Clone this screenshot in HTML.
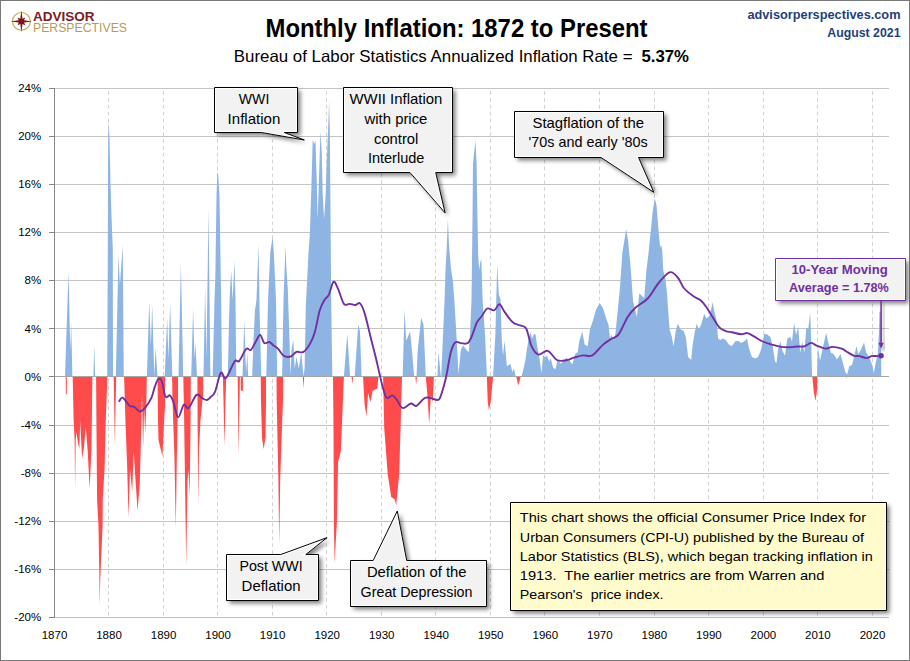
<!DOCTYPE html>
<html><head><meta charset="utf-8"><style>html,body{margin:0;padding:0;background:#fff;width:910px;height:661px;overflow:hidden}svg{display:block}text{white-space:pre}</style></head>
<body>
<svg width="910" height="661" viewBox="0 0 910 661" font-family="Liberation Sans">
<defs><filter id="sh" x="-10%" y="-10%" width="130%" height="130%"><feGaussianBlur in="SourceAlpha" stdDeviation="2"/><feOffset dx="2.5" dy="3"/><feComponentTransfer><feFuncA type="linear" slope="0.5"/></feComponentTransfer><feMerge><feMergeNode/><feMergeNode in="SourceGraphic"/></feMerge></filter></defs>
<rect x="0.5" y="0.5" width="909" height="660" fill="#fff" stroke="#7a7a7a" stroke-width="1"/>
<line x1="49" y1="88.5" x2="889" y2="88.5" stroke="#c4c4c4" stroke-width="1"/>
<line x1="49" y1="136.5" x2="889" y2="136.5" stroke="#c4c4c4" stroke-width="1"/>
<line x1="49" y1="184.5" x2="889" y2="184.5" stroke="#c4c4c4" stroke-width="1"/>
<line x1="49" y1="232.5" x2="889" y2="232.5" stroke="#c4c4c4" stroke-width="1"/>
<line x1="49" y1="280.5" x2="889" y2="280.5" stroke="#c4c4c4" stroke-width="1"/>
<line x1="49" y1="328.5" x2="889" y2="328.5" stroke="#c4c4c4" stroke-width="1"/>
<line x1="49" y1="376.5" x2="889" y2="376.5" stroke="#c4c4c4" stroke-width="1"/>
<line x1="49" y1="425.5" x2="889" y2="425.5" stroke="#c4c4c4" stroke-width="1"/>
<line x1="49" y1="473.5" x2="889" y2="473.5" stroke="#c4c4c4" stroke-width="1"/>
<line x1="49" y1="521.5" x2="889" y2="521.5" stroke="#c4c4c4" stroke-width="1"/>
<line x1="49" y1="569.5" x2="889" y2="569.5" stroke="#c4c4c4" stroke-width="1"/>
<line x1="108.5" y1="88.5" x2="108.5" y2="617" stroke="#d2d2d2" stroke-width="1" stroke-dasharray="3.8,3.05" stroke-dashoffset="-2.7"/>
<line x1="163.5" y1="88.5" x2="163.5" y2="617" stroke="#d2d2d2" stroke-width="1" stroke-dasharray="3.8,3.05" stroke-dashoffset="-2.7"/>
<line x1="217.5" y1="88.5" x2="217.5" y2="617" stroke="#d2d2d2" stroke-width="1" stroke-dasharray="3.8,3.05" stroke-dashoffset="-2.7"/>
<line x1="272.5" y1="88.5" x2="272.5" y2="617" stroke="#d2d2d2" stroke-width="1" stroke-dasharray="3.8,3.05" stroke-dashoffset="-2.7"/>
<line x1="326.5" y1="88.5" x2="326.5" y2="617" stroke="#d2d2d2" stroke-width="1" stroke-dasharray="3.8,3.05" stroke-dashoffset="-2.7"/>
<line x1="381.5" y1="88.5" x2="381.5" y2="617" stroke="#d2d2d2" stroke-width="1" stroke-dasharray="3.8,3.05" stroke-dashoffset="-2.7"/>
<line x1="435.5" y1="88.5" x2="435.5" y2="617" stroke="#d2d2d2" stroke-width="1" stroke-dasharray="3.8,3.05" stroke-dashoffset="-2.7"/>
<line x1="490.5" y1="88.5" x2="490.5" y2="617" stroke="#d2d2d2" stroke-width="1" stroke-dasharray="3.8,3.05" stroke-dashoffset="-2.7"/>
<line x1="544.5" y1="88.5" x2="544.5" y2="617" stroke="#d2d2d2" stroke-width="1" stroke-dasharray="3.8,3.05" stroke-dashoffset="-2.7"/>
<line x1="599.5" y1="88.5" x2="599.5" y2="617" stroke="#d2d2d2" stroke-width="1" stroke-dasharray="3.8,3.05" stroke-dashoffset="-2.7"/>
<line x1="654.5" y1="88.5" x2="654.5" y2="617" stroke="#d2d2d2" stroke-width="1" stroke-dasharray="3.8,3.05" stroke-dashoffset="-2.7"/>
<line x1="708.5" y1="88.5" x2="708.5" y2="617" stroke="#d2d2d2" stroke-width="1" stroke-dasharray="3.8,3.05" stroke-dashoffset="-2.7"/>
<line x1="763.5" y1="88.5" x2="763.5" y2="617" stroke="#d2d2d2" stroke-width="1" stroke-dasharray="3.8,3.05" stroke-dashoffset="-2.7"/>
<line x1="817.5" y1="88.5" x2="817.5" y2="617" stroke="#d2d2d2" stroke-width="1" stroke-dasharray="3.8,3.05" stroke-dashoffset="-2.7"/>
<line x1="872.5" y1="88.5" x2="872.5" y2="617" stroke="#d2d2d2" stroke-width="1" stroke-dasharray="3.8,3.05" stroke-dashoffset="-2.7"/>
<polygon points="65.0,376.4 65.0,376.5 68.5,271.5 70.3,350.0 71.2,322.3 72.4,376.5 93.4,376.5 94.3,344.2 95.2,376.5 107.2,376.5 107.8,250.0 108.0,180.0 108.2,137.5 108.6,121.0 109.5,137.5 110.5,184.0 111.5,216.0 112.8,250.0 113.0,376.5 115.8,376.5 118.5,254.2 119.9,285.4 122.7,245.0 123.8,376.5 146.9,376.5 149.2,301.5 150.9,345.4 152.2,305.0 154.3,376.5 155.6,347.7 157.5,376.5 164.7,376.5 167.2,317.7 168.4,359.0 170.2,302.7 172.3,376.5 178.5,376.5 180.9,263.5 183.2,376.5 191.2,376.5 193.1,308.5 194.5,359.0 195.4,342.0 197.0,376.5 203.5,376.5 205.1,287.7 206.5,359.0 208.5,209.0 210.4,376.5 212.7,376.5 214.5,300.0 215.3,278.6 216.5,196.0 217.4,171.7 218.2,175.0 219.5,196.0 220.8,278.6 221.2,300.0 222.0,376.5 227.8,376.5 229.0,320.0 230.0,290.0 231.3,270.8 232.5,300.0 233.5,283.0 234.5,260.6 235.5,300.0 236.3,376.5 242.5,376.5 244.3,319.6 245.5,360.0 246.2,372.0 247.3,352.0 248.2,376.5 252.2,376.5 253.5,340.0 255.0,310.0 256.5,300.0 258.5,244.7 259.8,320.0 261.3,376.5 266.3,376.5 268.0,300.0 270.3,252.0 272.6,236.8 273.8,252.0 276.0,300.0 277.2,376.5 282.1,376.5 283.5,300.0 285.5,245.9 286.5,270.0 287.8,289.0 289.5,340.0 290.5,376.5 291.5,350.0 293.3,339.6 294.7,368.5 296.5,357.0 298.8,368.5 301.2,352.3 303.5,376.5 304.6,368.5 305.8,306.2 308.5,253.0 309.8,235.0 311.4,187.3 312.7,139.5 314.1,144.0 315.5,140.7 316.6,176.0 317.7,219.0 318.9,180.5 320.5,131.6 321.8,153.2 322.7,194.0 324.1,219.0 325.7,194.0 326.8,160.0 328.6,116.8 329.1,100.0 329.8,130.5 330.7,235.0 331.2,300.0 332.3,376.5 343.9,376.5 347.3,333.9 350.1,376.5 354.7,376.5 358.2,324.6 360.0,331.5 361.6,376.5 402.7,376.5 404.5,309.6 406.2,340.8 410.1,331.5 411.9,350.0 414.2,376.5 416.5,376.5 417.7,350.0 421.2,317.7 423.5,324.6 425.8,376.5 437.3,376.5 438.5,352.3 440.8,376.5 441.2,376.5 444.6,299.2 445.5,270.0 446.6,250.8 447.9,218.7 449.0,245.0 451.0,268.8 453.0,281.7 454.3,300.0 455.0,310.8 457.3,350.0 458.5,374.0 460.8,350.0 463.1,345.4 466.5,350.0 468.8,352.3 470.0,333.9 471.5,300.0 472.5,220.0 473.0,163.4 475.4,140.3 476.6,163.4 477.5,220.0 478.2,256.0 479.2,270.0 480.0,263.7 481.3,258.5 482.6,300.0 485.0,333.9 486.9,376.5 493.1,376.5 495.4,333.9 497.2,264.6 498.8,294.6 500.5,299.2 501.8,340.8 503.0,355.4 504.6,340.8 506.9,366.2 510.4,363.9 512.3,372.0 513.9,368.5 515.7,376.5 521.5,376.2 523.1,370.8 525.4,360.0 526.9,349.2 528.5,340.0 530.5,332.3 532.0,338.5 533.8,334.6 535.4,333.8 536.9,344.6 539.2,356.9 541.5,373.1 543.1,355.4 545.4,356.9 546.9,355.4 549.2,361.5 550.8,358.5 553.1,367.7 555.4,369.2 557.7,360.0 560.8,363.8 563.1,361.5 566.2,357.7 569.2,360.0 572.3,364.6 575.4,353.8 577.7,352.3 579.2,341.5 582.3,331.5 584.6,344.6 587.7,346.2 590.0,329.2 593.1,320.0 596.2,309.2 599.7,303.1 603.1,308.5 606.2,318.5 608.5,324.6 610.0,338.5 611.5,334.6 613.1,340.8 615.4,333.8 617.7,310.8 620.0,287.7 622.3,253.1 626.2,229.2 628.0,240.0 630.4,264.6 633.1,301.5 636.9,316.9 639.2,293.8 640.0,294.0 642.1,296.0 644.2,298.0 646.4,270.5 648.5,253.6 650.6,232.4 652.7,211.2 654.8,198.5 656.5,205.0 658.0,223.9 660.1,247.2 661.2,245.0 662.2,250.0 663.3,270.5 665.4,279.0 667.1,293.8 668.6,317.0 669.7,330.0 671.9,336.9 673.5,346.2 675.8,330.8 677.8,323.8 680.4,329.2 683.5,330.8 685.8,336.9 688.1,356.9 691.2,360.0 692.7,344.6 695.0,330.8 696.8,323.8 698.8,329.2 701.2,324.6 704.2,313.8 706.5,318.5 709.6,315.4 712.7,302.3 714.2,310.8 716.5,320.0 718.1,338.5 720.4,340.0 722.7,338.5 725.8,340.0 728.8,344.6 731.9,346.2 735.0,341.5 738.1,340.8 741.2,343.1 744.2,341.5 747.0,338.5 748.8,347.7 751.9,356.9 755.0,358.5 758.1,356.9 761.2,349.2 764.2,333.8 767.3,334.6 770.4,336.9 772.7,346.2 775.0,361.5 776.5,363.1 778.1,349.2 780.4,341.5 782.4,350.8 785.0,355.4 787.3,338.5 790.4,336.9 792.0,341.8 794.1,322.7 796.1,335.0 798.2,326.8 800.2,352.7 802.3,341.8 804.3,352.7 806.3,328.1 808.4,328.1 810.2,312.5 811.1,337.7 812.1,376.5 817.0,376.5 817.9,347.2 820.0,360.8 822.7,348.6 826.1,332.9 828.8,344.5 830.9,352.7 833.6,354.0 837.0,359.5 840.4,354.0 843.1,363.6 845.2,371.7 847.2,374.5 849.3,366.3 852.0,364.9 854.0,356.8 856.5,345.9 858.1,354.0 860.8,349.9 864.0,342.5 866.3,352.7 869.0,356.8 871.7,363.6 873.8,373.1 875.8,362.2 877.9,352.7 879.0,330.0 879.5,312.0 881.0,311.0 881.3,376.5 881.3,376.4" fill="#8eb4e3"/>
<polygon points="65.7,376.4 65.7,376.5 65.8,394.2 66.8,394.2 66.8,376.5 72.7,376.5 73.6,419.2 74.6,440.0 75.1,488.6 75.7,440.0 76.4,432.3 77.8,441.7 79.3,449.2 80.2,421.0 82.1,458.6 84.0,447.3 85.8,426.7 87.7,451.0 89.6,488.6 91.5,449.2 92.4,376.5 96.1,376.5 96.5,432.3 97.1,500.0 98.5,526.0 99.4,580.0 99.6,605.0 100.2,580.0 102.6,526.0 102.7,500.0 104.6,468.0 105.5,428.5 107.4,376.5 113.7,376.5 114.8,443.9 116.2,376.5 124.1,376.5 125.6,426.0 127.2,467.5 128.5,517.6 130.0,469.7 132.2,491.5 133.7,451.2 135.4,478.4 137.6,511.0 139.8,482.8 140.9,441.4 142.0,393.4 143.1,447.9 144.1,408.7 145.2,432.6 146.3,406.5 146.8,376.5 157.5,376.5 158.0,420.0 158.5,440.0 162.4,456.5 163.2,440.0 165.0,405.0 165.2,376.5 172.1,376.5 172.5,400.0 174.5,460.0 175.8,528.0 176.8,460.0 178.0,400.0 178.0,376.5 183.3,376.5 184.0,411.0 185.0,480.0 186.2,566.0 187.5,480.0 188.5,470.0 189.6,495.0 190.5,430.0 190.8,376.5 197.4,376.5 197.6,420.0 198.2,506.0 199.0,450.0 200.5,420.0 203.0,395.0 203.3,376.5 222.9,376.5 223.5,400.0 224.5,446.6 225.5,400.0 226.2,376.5 237.7,376.5 238.6,455.0 239.9,376.5 240.7,376.5 240.8,390.8 242.9,390.8 242.9,376.5 260.7,376.5 261.0,401.6 262.0,438.0 263.7,449.0 265.5,438.0 266.0,401.6 266.0,376.5 276.5,376.5 276.7,400.0 277.5,440.0 278.4,480.0 279.2,545.0 280.2,480.0 281.5,440.0 283.0,400.0 283.2,376.5 302.8,376.5 303.5,388.5 304.2,376.5 333.0,376.5 333.5,427.7 333.9,521.5 334.6,563.0 336.9,521.5 338.1,462.3 340.9,450.8 343.9,376.5 351.5,376.5 352.4,383.8 353.1,376.5 363.0,376.5 364.6,404.6 366.5,416.2 368.1,393.1 370.4,402.3 372.7,390.8 377.3,388.5 378.5,376.5 383.1,376.5 384.2,427.7 387.7,473.9 391.2,496.9 394.6,499.2 396.2,505.0 399.2,473.9 400.9,416.2 402.0,376.5 415.4,376.5 416.1,385.0 417.0,376.5 425.8,376.5 427.6,397.7 429.2,424.2 430.9,395.4 432.7,402.3 433.9,376.5 486.9,376.5 487.7,401.5 488.9,410.0 490.8,401.5 493.1,376.5 516.2,376.5 518.2,385.4 520.8,376.5 812.3,376.5 813.8,392.0 815.4,400.8 816.9,392.0 817.4,376.5 845.4,376.5 846.2,378.0 846.9,376.5 846.9,376.4" fill="#ff4b4b"/>
<line x1="49" y1="376.5" x2="889" y2="376.5" stroke="#a6a6a6" stroke-width="1"/>
<path d="M119.2,401.2 C119.8,400.6 121.0,396.9 122.7,397.7 C124.4,398.5 127.7,404.3 129.6,405.8 C131.5,407.3 132.5,405.9 134.2,406.9 C135.9,407.8 138.1,411.5 140.0,411.5 C141.9,411.5 143.9,409.2 145.8,406.9 C147.7,404.6 150.0,401.1 151.5,397.7 C153.0,394.2 153.8,389.3 155.0,386.2 C156.2,383.1 157.3,379.6 158.5,378.8 C159.7,378.0 160.8,378.6 161.9,381.5 C163.1,384.4 164.1,394.2 165.4,396.5 C166.8,398.8 168.7,394.4 170.0,395.4 C171.3,396.4 172.2,398.6 173.5,402.3 C174.8,406.0 176.4,416.9 178.1,417.3 C179.8,417.7 182.1,406.1 183.8,404.6 C185.5,403.1 186.4,409.7 188.5,408.1 C190.6,406.5 194.2,396.5 196.5,394.9 C198.8,393.2 200.6,397.3 202.3,398.2 C204.0,399.1 205.6,400.2 206.9,400.0 C208.2,399.8 209.1,398.6 210.4,397.2 C211.8,395.8 213.3,396.0 215.0,391.9 C216.7,387.8 219.0,375.1 220.8,372.8 C222.6,370.5 223.6,380.0 225.9,378.1 C228.2,376.2 232.4,364.4 234.6,361.5 C236.8,358.6 237.3,363.1 239.2,361.0 C241.1,358.9 244.3,350.7 246.2,348.9 C248.1,347.1 249.3,351.0 250.8,350.0 C252.3,349.0 253.4,345.6 255.0,343.1 C256.6,340.6 258.6,335.0 260.1,335.0 C261.6,335.0 262.7,341.9 264.2,343.1 C265.7,344.3 267.8,341.6 269.3,342.0 C270.9,342.4 272.0,344.2 273.5,345.4 C275.0,346.5 276.4,347.2 278.1,348.9 C279.8,350.6 281.7,354.5 283.8,355.8 C285.9,357.1 288.7,357.1 290.8,356.5 C292.9,355.9 294.4,352.7 296.5,351.9 C298.6,351.1 301.2,353.4 303.5,351.9 C305.8,350.4 308.5,346.5 310.4,343.1 C312.3,339.7 313.5,336.9 315.0,331.5 C316.5,326.1 318.1,316.0 319.6,310.8 C321.1,305.6 322.6,303.1 324.2,300.4 C325.8,297.7 327.3,297.7 328.9,294.6 C330.4,291.5 332.0,282.9 333.5,281.9 C335.0,280.9 336.4,285.1 338.1,288.8 C339.8,292.5 342.0,301.4 343.9,303.9 C345.8,306.4 347.7,303.7 349.6,303.9 C351.5,304.1 353.7,305.1 355.4,305.0 C357.1,304.9 358.5,302.0 360.0,303.4 C361.5,304.8 362.9,307.6 364.6,313.1 C366.3,318.6 368.5,328.5 370.4,336.2 C372.3,343.9 374.3,351.3 376.2,359.2 C378.1,367.1 380.2,377.4 381.9,383.8 C383.6,390.2 384.8,395.8 386.5,397.7 C388.2,399.6 390.6,395.0 392.3,395.4 C394.0,395.8 395.2,397.9 396.9,400.0 C398.6,402.1 400.4,407.5 402.7,408.1 C405.0,408.7 408.5,403.9 410.8,403.5 C413.1,403.1 414.0,406.8 416.5,405.8 C419.0,404.8 422.3,398.7 425.8,397.7 C429.3,396.7 434.9,400.0 437.3,400.0 C439.7,400.0 439.0,399.6 440.0,397.7 C441.0,395.8 442.1,392.0 443.1,388.5 C444.1,385.0 444.9,382.5 446.2,376.5 C447.5,370.5 449.3,358.0 450.8,352.3 C452.3,346.6 453.7,343.8 455.4,342.3 C457.1,340.8 458.8,343.0 460.8,343.1 C462.9,343.2 465.8,344.5 467.7,343.1 C469.6,341.8 470.8,338.5 472.3,335.0 C473.8,331.5 475.4,325.4 476.9,322.3 C478.4,319.2 479.8,318.8 481.5,316.5 C483.2,314.2 485.2,309.5 487.3,308.5 C489.4,307.5 492.2,311.0 494.2,310.3 C496.2,309.6 497.8,304.0 499.5,304.3 C501.2,304.6 502.4,308.9 504.6,311.9 C506.8,314.9 510.1,320.1 512.7,322.3 C515.3,324.6 517.8,324.4 520.0,325.4 C522.2,326.4 524.3,325.0 526.2,328.5 C528.1,332.0 529.5,341.8 531.5,346.2 C533.5,350.6 535.8,353.8 538.5,354.6 C541.2,355.4 544.6,349.9 547.7,350.8 C550.8,351.7 553.8,358.4 556.9,360.0 C560.0,361.6 563.4,360.7 566.2,360.3 C569.0,359.9 571.0,358.5 573.8,357.7 C576.6,356.9 580.0,355.8 583.1,355.4 C586.2,355.0 589.0,357.2 592.3,355.4 C595.6,353.6 600.0,347.3 603.1,344.6 C606.2,341.9 608.2,340.9 610.8,339.2 C613.4,337.5 615.7,338.3 618.5,334.6 C621.3,330.9 624.9,321.4 627.7,316.9 C630.5,312.4 632.1,310.8 635.4,307.7 C638.7,304.6 643.9,302.6 647.7,298.5 C651.6,294.4 654.8,287.5 658.5,283.1 C662.2,278.7 666.7,273.1 670.0,272.2 C673.3,271.3 675.7,275.3 678.1,278.0 C680.5,280.7 681.6,285.5 684.2,288.5 C686.8,291.5 690.7,294.1 693.5,296.2 C696.3,298.2 698.9,298.8 701.2,300.8 C703.5,302.9 705.2,305.6 707.3,308.5 C709.3,311.4 711.5,315.3 713.5,318.5 C715.5,321.7 717.6,325.6 719.6,327.7 C721.6,329.8 723.8,330.3 725.8,331.1 C727.8,331.9 729.3,331.8 731.9,332.3 C734.5,332.8 738.6,334.1 741.2,334.2 C743.8,334.3 745.2,332.8 747.3,333.1 C749.3,333.4 750.9,334.8 753.5,336.2 C756.1,337.6 759.6,340.1 762.7,341.5 C765.8,342.9 768.8,343.7 771.9,344.6 C775.0,345.5 778.2,346.5 781.2,346.9 C784.2,347.3 787.4,347.3 790.0,347.2 C792.6,347.1 794.5,346.6 796.8,346.5 C799.1,346.4 801.8,346.8 803.6,346.5 C805.4,346.2 806.4,345.1 807.7,344.5 C809.0,343.9 809.9,342.7 811.5,342.9 C813.1,343.1 814.9,344.9 817.2,345.9 C819.5,346.8 822.9,348.4 825.4,348.6 C827.9,348.8 829.5,346.9 832.2,346.9 C834.9,346.9 839.3,347.8 841.8,348.6 C844.3,349.5 845.2,350.8 847.2,352.0 C849.2,353.2 852.0,355.1 854.0,355.8 C856.0,356.5 857.5,355.7 859.5,356.1 C861.5,356.5 864.3,358.1 866.3,358.1 C868.3,358.1 869.9,356.4 871.7,356.1 C873.5,355.8 875.6,356.1 877.2,356.1 C878.8,356.1 880.8,356.1 881.5,356.1" fill="none" stroke="#7030a0" stroke-width="1.9" stroke-linejoin="round" stroke-linecap="round"/>
<line x1="54" y1="617.5" x2="889" y2="617.5" stroke="#bdbdbd" stroke-width="1"/>
<line x1="54.5" y1="88" x2="54.5" y2="618" stroke="#868686" stroke-width="1"/>
<line x1="49" y1="88.5" x2="54" y2="88.5" stroke="#868686" stroke-width="1"/>
<line x1="49" y1="136.5" x2="54" y2="136.5" stroke="#868686" stroke-width="1"/>
<line x1="49" y1="184.5" x2="54" y2="184.5" stroke="#868686" stroke-width="1"/>
<line x1="49" y1="232.5" x2="54" y2="232.5" stroke="#868686" stroke-width="1"/>
<line x1="49" y1="280.5" x2="54" y2="280.5" stroke="#868686" stroke-width="1"/>
<line x1="49" y1="328.5" x2="54" y2="328.5" stroke="#868686" stroke-width="1"/>
<line x1="49" y1="376.5" x2="54" y2="376.5" stroke="#868686" stroke-width="1"/>
<line x1="49" y1="425.5" x2="54" y2="425.5" stroke="#868686" stroke-width="1"/>
<line x1="49" y1="473.5" x2="54" y2="473.5" stroke="#868686" stroke-width="1"/>
<line x1="49" y1="521.5" x2="54" y2="521.5" stroke="#868686" stroke-width="1"/>
<line x1="49" y1="569.5" x2="54" y2="569.5" stroke="#868686" stroke-width="1"/>
<line x1="49" y1="617.5" x2="54" y2="617.5" stroke="#868686" stroke-width="1"/>
<text x="41.2" y="92.1" text-anchor="end" font-size="11.5" font-weight="normal" fill="#000">24%</text>
<text x="41.2" y="140.2" text-anchor="end" font-size="11.5" font-weight="normal" fill="#000">20%</text>
<text x="41.2" y="188.3" text-anchor="end" font-size="11.5" font-weight="normal" fill="#000">16%</text>
<text x="41.2" y="236.4" text-anchor="end" font-size="11.5" font-weight="normal" fill="#000">12%</text>
<text x="41.2" y="284.4" text-anchor="end" font-size="11.5" font-weight="normal" fill="#000">8%</text>
<text x="41.2" y="332.5" text-anchor="end" font-size="11.5" font-weight="normal" fill="#000">4%</text>
<text x="41.2" y="380.6" text-anchor="end" font-size="11.5" font-weight="normal" fill="#000">0%</text>
<text x="41.2" y="428.7" text-anchor="end" font-size="11.5" font-weight="normal" fill="#000">-4%</text>
<text x="41.2" y="476.8" text-anchor="end" font-size="11.5" font-weight="normal" fill="#000">-8%</text>
<text x="41.2" y="524.8" text-anchor="end" font-size="11.5" font-weight="normal" fill="#000">-12%</text>
<text x="41.2" y="572.9" text-anchor="end" font-size="11.5" font-weight="normal" fill="#000">-16%</text>
<text x="41.2" y="621.0" text-anchor="end" font-size="11.5" font-weight="normal" fill="#000">-20%</text>
<text x="54.5" y="639" text-anchor="middle" font-size="11.5" font-weight="normal" fill="#000">1870</text>
<text x="109.0" y="639" text-anchor="middle" font-size="11.5" font-weight="normal" fill="#000">1880</text>
<text x="163.6" y="639" text-anchor="middle" font-size="11.5" font-weight="normal" fill="#000">1890</text>
<text x="218.1" y="639" text-anchor="middle" font-size="11.5" font-weight="normal" fill="#000">1900</text>
<text x="272.6" y="639" text-anchor="middle" font-size="11.5" font-weight="normal" fill="#000">1910</text>
<text x="327.2" y="639" text-anchor="middle" font-size="11.5" font-weight="normal" fill="#000">1920</text>
<text x="381.7" y="639" text-anchor="middle" font-size="11.5" font-weight="normal" fill="#000">1930</text>
<text x="436.2" y="639" text-anchor="middle" font-size="11.5" font-weight="normal" fill="#000">1940</text>
<text x="490.7" y="639" text-anchor="middle" font-size="11.5" font-weight="normal" fill="#000">1950</text>
<text x="545.3" y="639" text-anchor="middle" font-size="11.5" font-weight="normal" fill="#000">1960</text>
<text x="599.8" y="639" text-anchor="middle" font-size="11.5" font-weight="normal" fill="#000">1970</text>
<text x="654.3" y="639" text-anchor="middle" font-size="11.5" font-weight="normal" fill="#000">1980</text>
<text x="708.9" y="639" text-anchor="middle" font-size="11.5" font-weight="normal" fill="#000">1990</text>
<text x="763.4" y="639" text-anchor="middle" font-size="11.5" font-weight="normal" fill="#000">2000</text>
<text x="817.9" y="639" text-anchor="middle" font-size="11.5" font-weight="normal" fill="#000">2010</text>
<text x="872.5" y="639" text-anchor="middle" font-size="11.5" font-weight="normal" fill="#000">2020</text>
<text x="265.50" y="37.3" font-size="25" font-weight="bold" fill="#000" textLength="382.06" lengthAdjust="spacingAndGlyphs">Monthly Inflation: 1872 to Present</text>
<text x="233.80" y="61.6" font-size="16.5" font-weight="normal" fill="#000" textLength="398.69" lengthAdjust="spacingAndGlyphs">Bureau of Labor Statistics Annualized Inflation Rate =</text>
<text x="641.50" y="61.6" font-size="16.5" font-weight="bold" fill="#000" textLength="47.51" lengthAdjust="spacingAndGlyphs">5.37%</text>
<text x="747.40" y="19.2" font-size="13.5" font-weight="bold" fill="#1f3f7a" textLength="153.11" lengthAdjust="spacingAndGlyphs">advisorperspectives.com</text>
<text x="827.30" y="37.2" font-size="13.5" font-weight="bold" fill="#1f3f7a" textLength="73.22" lengthAdjust="spacingAndGlyphs">August 2021</text>
<circle cx="21.4" cy="21.4" r="8.9" fill="none" stroke="#c2a04e" stroke-width="1.1"/>
<path d="M21.40,10.60 L22.51,18.72 L25.22,17.58 L24.08,20.29 L32.20,21.40 L24.08,22.51 L25.22,25.22 L22.51,24.08 L21.40,32.20 L20.29,24.08 L17.58,25.22 L18.72,22.51 L10.60,21.40 L18.72,20.29 L17.58,17.58 L20.29,18.72 Z" fill="#7d1518"/>
<circle cx="21.4" cy="21.4" r="2.6" fill="#7d1518"/>
<text x="33.00" y="20.8" font-size="12.5" font-weight="bold" fill="#7d1a1e" textLength="61.62" lengthAdjust="spacingAndGlyphs">ADVISOR</text>
<text x="33.00" y="31.5" font-size="12.5" font-weight="normal" fill="#b99a55" textLength="93.99" lengthAdjust="spacingAndGlyphs">PERSPECTIVES</text>
<clipPath id="cp1"><path d="M214.5,87.5 H297.5 V132.5 H284.3 L304.3,140 L261.4,132.5 H214.5 Z"/></clipPath>
<path d="M214.5,87.5 H297.5 V132.5 H284.3 L304.3,140 L261.4,132.5 H214.5 Z" fill="#f2f2f2" filter="url(#sh)"/>
<path d="M214.5,87.5 H297.5 V132.5 H284.3 L304.3,140 L261.4,132.5 H214.5 Z" fill="none" stroke="#fff" stroke-width="3" clip-path="url(#cp1)"/>
<path d="M214.5,87.5 H297.5 V132.5 H284.3 L304.3,140 L261.4,132.5 H214.5 Z" fill="none" stroke="#000" stroke-width="1"/>
<text x="238.80" y="104.3" font-size="14.5" font-weight="normal" fill="#000" textLength="30.51" lengthAdjust="spacingAndGlyphs">WWI</text>
<text x="227.60" y="124.3" font-size="14.5" font-weight="normal" fill="#000" textLength="52.66" lengthAdjust="spacingAndGlyphs">Inflation</text>
<clipPath id="cp2"><path d="M343.5,87.5 H452.5 V172.5 H435.7 L445.1,212.9 L410,172.5 H343.5 Z"/></clipPath>
<path d="M343.5,87.5 H452.5 V172.5 H435.7 L445.1,212.9 L410,172.5 H343.5 Z" fill="#f2f2f2" filter="url(#sh)"/>
<path d="M343.5,87.5 H452.5 V172.5 H435.7 L445.1,212.9 L410,172.5 H343.5 Z" fill="none" stroke="#fff" stroke-width="3" clip-path="url(#cp2)"/>
<path d="M343.5,87.5 H452.5 V172.5 H435.7 L445.1,212.9 L410,172.5 H343.5 Z" fill="none" stroke="#000" stroke-width="1"/>
<text x="349.50" y="104.3" font-size="14.5" font-weight="normal" fill="#000" textLength="92.88" lengthAdjust="spacingAndGlyphs">WWII Inflation</text>
<text x="364.57" y="123.9" font-size="14.5" font-weight="normal" fill="#000" textLength="62.81" lengthAdjust="spacingAndGlyphs">with price</text>
<text x="374.00" y="143.5" font-size="14.5" font-weight="normal" fill="#000" textLength="44.32" lengthAdjust="spacingAndGlyphs">control</text>
<text x="367.90" y="163.1" font-size="14.5" font-weight="normal" fill="#000" textLength="56.52" lengthAdjust="spacingAndGlyphs">Interlude</text>
<clipPath id="cp3"><path d="M514.5,111.5 H663.5 V157.5 H638.5 L653.8,192.3 L601.1,157.5 H514.5 Z"/></clipPath>
<path d="M514.5,111.5 H663.5 V157.5 H638.5 L653.8,192.3 L601.1,157.5 H514.5 Z" fill="#f2f2f2" filter="url(#sh)"/>
<path d="M514.5,111.5 H663.5 V157.5 H638.5 L653.8,192.3 L601.1,157.5 H514.5 Z" fill="none" stroke="#fff" stroke-width="3" clip-path="url(#cp3)"/>
<path d="M514.5,111.5 H663.5 V157.5 H638.5 L653.8,192.3 L601.1,157.5 H514.5 Z" fill="none" stroke="#000" stroke-width="1"/>
<text x="532.50" y="127.5" font-size="14.5" font-weight="normal" fill="#000" textLength="111.51" lengthAdjust="spacingAndGlyphs">Stagflation of the</text>
<text x="528.60" y="147.3" font-size="14.5" font-weight="normal" fill="#000" textLength="119.12" lengthAdjust="spacingAndGlyphs">'70s and early '80s</text>
<clipPath id="cp4"><path d="M226.5,554.5 H280.8 L327.1,537.6 L305.8,554.5 H318.5 V600.5 H226.5 Z"/></clipPath>
<path d="M226.5,554.5 H280.8 L327.1,537.6 L305.8,554.5 H318.5 V600.5 H226.5 Z" fill="#f2f2f2" filter="url(#sh)"/>
<path d="M226.5,554.5 H280.8 L327.1,537.6 L305.8,554.5 H318.5 V600.5 H226.5 Z" fill="none" stroke="#fff" stroke-width="3" clip-path="url(#cp4)"/>
<path d="M226.5,554.5 H280.8 L327.1,537.6 L305.8,554.5 H318.5 V600.5 H226.5 Z" fill="none" stroke="#000" stroke-width="1"/>
<text x="239.40" y="571.4" font-size="14.5" font-weight="normal" fill="#000" textLength="63.29" lengthAdjust="spacingAndGlyphs">Post WWI</text>
<text x="241.60" y="590.8" font-size="14.5" font-weight="normal" fill="#000" textLength="58.93" lengthAdjust="spacingAndGlyphs">Deflation</text>
<clipPath id="cp5"><path d="M350.5,560.5 H373.2 L397.3,511 L406.7,560.5 H486.5 V606.5 H350.5 Z"/></clipPath>
<path d="M350.5,560.5 H373.2 L397.3,511 L406.7,560.5 H486.5 V606.5 H350.5 Z" fill="#f2f2f2" filter="url(#sh)"/>
<path d="M350.5,560.5 H373.2 L397.3,511 L406.7,560.5 H486.5 V606.5 H350.5 Z" fill="none" stroke="#fff" stroke-width="3" clip-path="url(#cp5)"/>
<path d="M350.5,560.5 H373.2 L397.3,511 L406.7,560.5 H486.5 V606.5 H350.5 Z" fill="none" stroke="#000" stroke-width="1"/>
<text x="366.90" y="576.7" font-size="14.5" font-weight="normal" fill="#000" textLength="99.62" lengthAdjust="spacingAndGlyphs">Deflation of the</text>
<text x="360.60" y="596.5" font-size="14.5" font-weight="normal" fill="#000" textLength="111.83" lengthAdjust="spacingAndGlyphs">Great Depression</text>
<clipPath id="cp6"><path d="M775.5,258.5 H905.5 V300.5 H775.5 Z"/></clipPath>
<path d="M775.5,258.5 H905.5 V300.5 H775.5 Z" fill="#f2f2f2" filter="url(#sh)"/>
<path d="M775.5,258.5 H905.5 V300.5 H775.5 Z" fill="none" stroke="#fff" stroke-width="3" clip-path="url(#cp6)"/>
<path d="M775.5,258.5 H905.5 V300.5 H775.5 Z" fill="none" stroke="#7030a0" stroke-width="1"/>
<text x="791.50" y="274" font-size="12.3" font-weight="bold" fill="#7030a0" textLength="96.32" lengthAdjust="spacingAndGlyphs">10-Year Moving</text>
<text x="789.10" y="291.7" font-size="12.3" font-weight="bold" fill="#7030a0" textLength="99.70" lengthAdjust="spacingAndGlyphs">Average = 1.78%</text>
<g filter="url(#sh)"><line x1="881.1" y1="301" x2="881.1" y2="344" stroke="#7030a0" stroke-width="1.5"/><path d="M878.4,342.8 L883.8,342.8 L881.1,348.4 Z" fill="#7030a0"/></g>
<circle cx="881.1" cy="355.7" r="2.7" fill="#7030a0"/>
<clipPath id="cp7"><path d="M510.5,502.5 H886.5 V610.5 H510.5 Z"/></clipPath>
<path d="M510.5,502.5 H886.5 V610.5 H510.5 Z" fill="#fffbcc" filter="url(#sh)"/>
<path d="M510.5,502.5 H886.5 V610.5 H510.5 Z" fill="none" stroke="#fff" stroke-width="3" clip-path="url(#cp7)"/>
<path d="M510.5,502.5 H886.5 V610.5 H510.5 Z" fill="none" stroke="#000" stroke-width="1"/>
<text x="519.80" y="521.8" font-size="13.3" font-weight="normal" fill="#000" textLength="346.21" lengthAdjust="spacingAndGlyphs">This chart shows the official Consumer Price Index for</text>
<text x="519.80" y="541.6" font-size="13.3" font-weight="normal" fill="#000" textLength="344.15" lengthAdjust="spacingAndGlyphs">Urban Consumers (CPI-U) published by the Bureau of</text>
<text x="519.80" y="560.5" font-size="13.3" font-weight="normal" fill="#000" textLength="352.93" lengthAdjust="spacingAndGlyphs">Labor Statistics (BLS), which began tracking inflation in</text>
<text x="519.80" y="580" font-size="13.3" font-weight="normal" fill="#000" textLength="304.63" lengthAdjust="spacingAndGlyphs">1913.  The earlier metrics are from Warren and</text>
<text x="519.80" y="598.7" font-size="13.3" font-weight="normal" fill="#000" textLength="143.70" lengthAdjust="spacingAndGlyphs">Pearson's  price index.</text>
</svg>
</body></html>
